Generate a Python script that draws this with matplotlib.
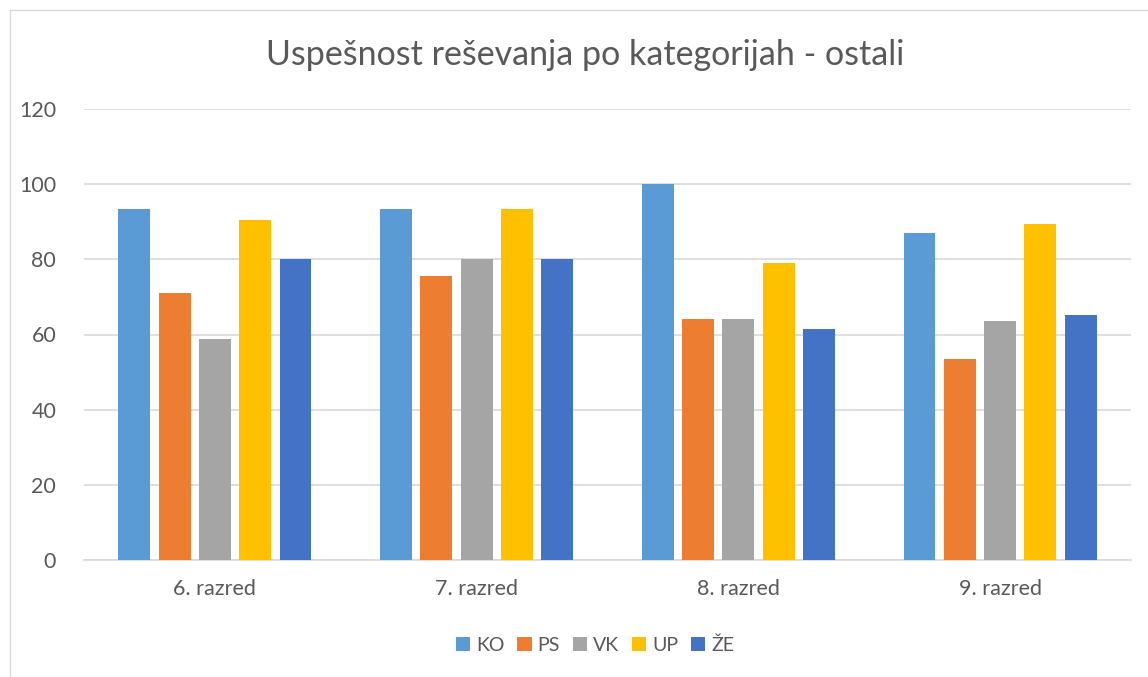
import matplotlib
matplotlib.use("Agg")
import matplotlib.pyplot as plt
from matplotlib.patches import Rectangle
import numpy as np

categories = ["6. razred", "7. razred", "8. razred", "9. razred"]
series_names = ["KO", "PS", "VK", "UP", "ŽE"]
ko = [93.3, 93.3, 100.0, 86.9]
ps = [71.0, 75.5, 64.0, 53.5]
vk = [58.7, 80.0, 64.0, 63.7]
up = [90.5, 93.3, 79.0, 89.4]
ze = [80.0, 80.0, 61.4, 65.1]
series_values = [ko, ps, vk, up, ze]
colors = ["#5B9BD5", "#ED7D31", "#A5A5A5", "#FFC000", "#4472C4"]
yticks = [0, 20, 40, 60, 80, 100, 120]

plt.rcParams['font.family'] = ['Lato', 'DejaVu Sans']
W, H = 1148, 677
fig = plt.figure(figsize=(W/100, H/100), dpi=100)
fig.patches.append(Rectangle((10/W, -0.1), 1.2, (H-10)/H + 0.1, transform=fig.transFigure,
                             fill=False, edgecolor="#D9D9D9", linewidth=1.0))

ax = fig.add_axes([84/W, 1-560/H, (1131-84)/W, (560-109)/H])
x = np.arange(len(categories))
pitch = 0.154
width = 0.122
for i, (name, vals, c) in enumerate(zip(series_names, series_values, colors)):
    ax.bar(x + (i-2)*pitch, vals, width, color=c, label=name, zorder=3)

ax.set_xlim(-0.5, len(categories)-0.5)
ax.set_ylim(0, 120)
ax.set_yticks(yticks)
ax.set_yticklabels([str(t) for t in yticks])
ax.set_xticks(x)
ax.set_xticklabels(categories)
ax.yaxis.grid(True, color="#D9D9D9", linewidth=1.2, zorder=0)
for s in ["top", "right", "left"]:
    ax.spines[s].set_visible(False)
ax.spines["bottom"].set_color("#D9D9D9")
ax.spines["bottom"].set_linewidth(1.2)
ax.tick_params(axis="both", length=0, labelsize=15.5, colors="#595959")
ax.tick_params(axis="y", pad=20)
ax.tick_params(axis="x", pad=14)

fig.text(585/W, 1-55/H, "Uspešnost reševanja po kategorijah - ostali", ha="center", va="center",
         fontsize=24.5, color="#595959")

leg = fig.legend(loc="center", bbox_to_anchor=(595/W, 1-645/H), ncol=5, frameon=False,
                 fontsize=14, handlelength=0.75, handleheight=0.75, handletextpad=0.3,
                 columnspacing=0.65, labelcolor="#595959")

fig.savefig("out.png", dpi=100)
